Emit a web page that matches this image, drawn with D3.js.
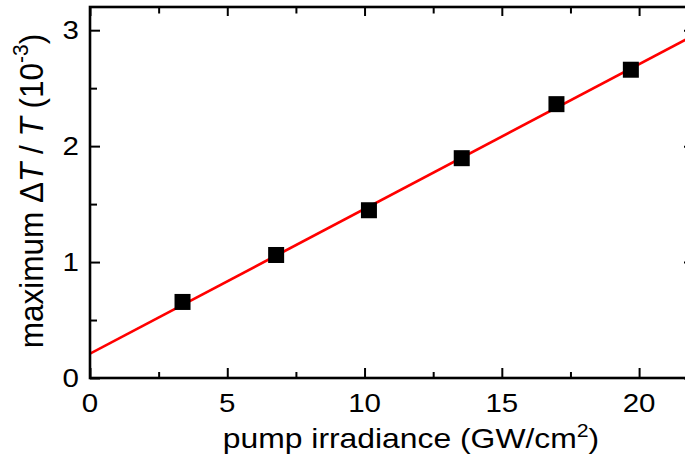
<!DOCTYPE html>
<html><head><meta charset="utf-8">
<script src="https://cdn.jsdelivr.net/npm/d3@7"></script>
<style>body{margin:0;background:#fff}svg{display:block}text{font-family:"Liberation Sans",Arial,sans-serif}</style>
</head><body>
<svg id="c" width="685" height="458"></svg>
<script>
const irradiance = [3.37, 6.78, 10.16, 13.54, 16.99, 19.70];
const deltaT = [0.656, 1.061, 1.447, 1.896, 2.362, 2.659];
const fitX = [0, 22];
const fitY = [0.21, 2.956];
const xMajor = [0, 5, 10, 15, 20];
const xMinor = [2.5, 7.5, 12.5, 17.5];
const yMajor = [0, 1, 2, 3];
const yMinor = [0.5, 1.5, 2.5];

const svg = d3.select("#c");
const L = 90, T = 7, B = 378, R = 694;
const x = d3.scaleLinear().domain([0, 22]).range([L, R]);
const y = d3.scaleLinear().domain([0, 3.2]).range([B, T]);
const sx = 1.18;

// fit line
const g = svg.append("g");
g.append("clipPath").attr("id","clip").append("rect").attr("x",L).attr("y",T).attr("width",R-L).attr("height",B-T);
g.append("path").attr("clip-path","url(#clip)")
  .datum(fitX.map((v,i)=>[v,fitY[i]]))
  .attr("d", d3.line().x(d=>x(d[0])).y(d=>y(d[1])))
  .attr("stroke","#ff0000").attr("stroke-width",2.7).attr("fill","none");

// points
g.selectAll("rect.pt").data(irradiance.map((v,i)=>[v,deltaT[i]])).join("rect")
  .attr("class","pt").attr("x",d=>x(d[0])-8).attr("y",d=>y(d[1])-8)
  .attr("width",16).attr("height",16).attr("fill","#000");

// ticks via axes
function ticks(axis, vals, size, tr){
  const a = svg.append("g").attr("transform",tr).call(axis.tickValues(vals).tickSize(size).tickSizeOuter(0).tickFormat(""));
  a.select(".domain").remove();
  a.selectAll("line").attr("stroke","#000").attr("stroke-width",2);
}
ticks(d3.axisBottom(x), xMajor, -10, `translate(0,${B})`);
ticks(d3.axisBottom(x), xMinor, -6, `translate(0,${B})`);
ticks(d3.axisTop(x), xMajor, -9, `translate(0,${T})`);
ticks(d3.axisTop(x), xMinor, -6.5, `translate(0,${T})`);
ticks(d3.axisLeft(y), yMajor, -10, `translate(${L},0)`);
ticks(d3.axisLeft(y), yMinor, -7, `translate(${L},0)`);
ticks(d3.axisRight(y), yMajor, -10, `translate(${R},0)`);
ticks(d3.axisRight(y), yMinor, -7, `translate(${R},0)`);

// frame
svg.append("rect").attr("x",L).attr("y",T).attr("width",R-L).attr("height",B-T)
  .attr("fill","none").attr("stroke","#000").attr("stroke-width",2.6);

// tick labels
xMajor.forEach(v=>{
  svg.append("text").attr("transform",`translate(${x(v)},411.5) scale(${sx},1)`)
    .attr("text-anchor","middle").attr("font-size",25).text(v);
});
yMajor.forEach(v=>{
  svg.append("text").attr("transform",`translate(79,${y(v)+9}) scale(${sx},1)`)
    .attr("text-anchor","end").attr("font-size",25).text(v);
});

// x label
const xl = svg.append("text").attr("transform",`translate(411,448) scale(${sx},1)`)
  .attr("text-anchor","middle").attr("font-size",27);
xl.append("tspan").text("pump irradiance (GW/cm");
xl.append("tspan").attr("font-size",18).attr("dy",-11).text("2");
xl.append("tspan").attr("dy",11).text(")");

// y label
const yl = svg.append("text").attr("transform",`translate(42.5,191) scale(1.08,1) rotate(-90)`)
  .attr("text-anchor","middle").attr("font-size",31.5);
yl.append("tspan").text("maximum \u0394");
yl.append("tspan").attr("font-style","italic").text("T");
yl.append("tspan").text(" / ");
yl.append("tspan").attr("font-style","italic").text("T");
yl.append("tspan").text(" (10");
yl.append("tspan").attr("font-size",21).attr("dy",-13).text("-3");
yl.append("tspan").attr("dy",13).text(")");
</script>
</body></html>
